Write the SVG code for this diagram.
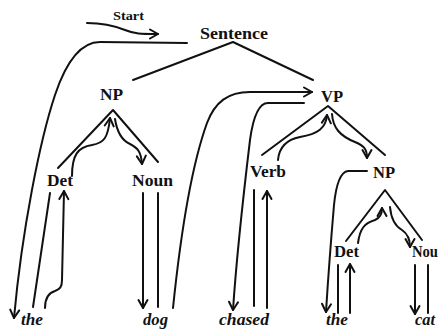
<svg xmlns="http://www.w3.org/2000/svg" width="442" height="329" viewBox="0 0 442 329">
<defs>
<style>
.lbl{font-family:"Liberation Serif","Times New Roman",serif;font-weight:bold;font-size:16px;fill:#111}
.wrd{font-family:"Liberation Serif","Times New Roman",serif;font-weight:bold;font-style:italic;font-size:16px;fill:#111}
.edge{fill:none;stroke:#111;stroke-width:2;stroke-linecap:round;stroke-linejoin:round}
.trav{fill:none;stroke:#111;stroke-width:2;stroke-linecap:round;stroke-linejoin:round;marker-end:url(#arr)}
</style>
<marker id="arr" viewBox="-10 -6 12 12" markerWidth="12" markerHeight="12" refX="0" refY="0" orient="auto" markerUnits="userSpaceOnUse">
<path d="M-8,-4.5 L0,0 L-8,4.5" fill="none" stroke="#111" stroke-width="2" stroke-linecap="round" stroke-linejoin="round"/>
</marker>
</defs>
<rect width="442" height="329" fill="#fff"/>
<g id="connectors">
<path class="edge" d="M133,80 L233,42 L313,80"/>
<path class="edge" d="M58,168 L113,110 L158,162"/>
<path class="edge" d="M262,155 L328,106 L385,155"/>
<path class="edge" d="M346,241 L385,190 L422,240"/>
<path class="edge" d="M50,193 L33,307"/>
<path class="edge" d="M158,193 L158,307"/>
<path class="edge" d="M254,190 L254,306"/>
<path class="edge" d="M338,265 L338,313"/>
<path class="edge" d="M428,265 L428,313"/>
<path class="trav" d="M87,23 C105,23 115,26 125,30 C135,34 140,34 158,34"/>
<path class="trav" d="M187,43 L100,42 C80,42 66,62 55,95 C40,140 22,230 14,318"/>
<path class="trav" d="M45,308 C45,298 48,293 55,291 C60,289 62,287 62,280 L64,191"/>
<path class="trav" d="M72,176 C72,155 78,147 92,145 C104,143 108,138 110,118"/>
<path class="trav" d="M115,119 C117,132 121,140 130,144 C138,148 141,152 142,164"/>
<path class="trav" d="M143,193 L143,308"/>
<path class="trav" d="M173,308 C180,240 190,170 207,123 C215,102 228,92 250,92 L312,92"/>
<path class="trav" d="M304,103 L268,103 C258,103 253,118 250,140 C244,190 237,250 233,310"/>
<path class="trav" d="M267,308 L267,191"/>
<path class="trav" d="M278,160 C279,148 285,140 300,137 C318,134 326,128 327,115"/>
<path class="trav" d="M332,114 C333,128 340,136 355,142 C365,146 367,150 367,158"/>
<path class="trav" d="M367,171 L348,171 C340,172 336,185 334,205 C331,240 328,280 326,312"/>
<path class="trav" d="M350,313 L350,264"/>
<path class="trav" d="M358,243 C360,228 365,223 375,220 C380,218 382,214 382,208"/>
<path class="trav" d="M390,207 C391,218 395,226 402,230 C408,234 410,240 410,247"/>
<path class="trav" d="M415,265 L415,314"/>
</g>
<g id="start"><text class="lbl" x="113" y="20" textLength="31" lengthAdjust="spacingAndGlyphs" style="font-size:13px">Start</text></g>
<g id="sentence"><text class="lbl" x="200" y="39" textLength="68" lengthAdjust="spacingAndGlyphs">Sentence</text></g>
<g id="np1"><text class="lbl" x="100" y="100" textLength="23" lengthAdjust="spacingAndGlyphs">NP</text></g>
<g id="vp"><text class="lbl" x="321" y="102" textLength="22" lengthAdjust="spacingAndGlyphs">VP</text></g>
<g id="det1"><text class="lbl" x="47" y="186" textLength="26" lengthAdjust="spacingAndGlyphs">Det</text></g>
<g id="noun1"><text class="lbl" x="132" y="186" textLength="41" lengthAdjust="spacingAndGlyphs">Noun</text></g>
<g id="verb"><text class="lbl" x="250" y="177" textLength="36" lengthAdjust="spacingAndGlyphs">Verb</text></g>
<g id="np2"><text class="lbl" x="373" y="178" textLength="22" lengthAdjust="spacingAndGlyphs">NP</text></g>
<g id="det2"><text class="lbl" x="334" y="257" textLength="25" lengthAdjust="spacingAndGlyphs">Det</text></g>
<g id="noun2"><text class="lbl" x="412" y="257" textLength="26" lengthAdjust="spacingAndGlyphs">Nou</text></g>
<g id="w-the1"><text class="wrd" x="21" y="325" textLength="22" lengthAdjust="spacingAndGlyphs">the</text></g>
<g id="w-dog"><text class="wrd" x="143" y="325" textLength="25" lengthAdjust="spacingAndGlyphs">dog</text></g>
<g id="w-chased"><text class="wrd" x="219" y="325" textLength="50" lengthAdjust="spacingAndGlyphs">chased</text></g>
<g id="w-the2"><text class="wrd" x="326" y="325" textLength="22" lengthAdjust="spacingAndGlyphs">the</text></g>
<g id="w-cat"><text class="wrd" x="415" y="325" textLength="20" lengthAdjust="spacingAndGlyphs">cat</text></g>
</svg>
